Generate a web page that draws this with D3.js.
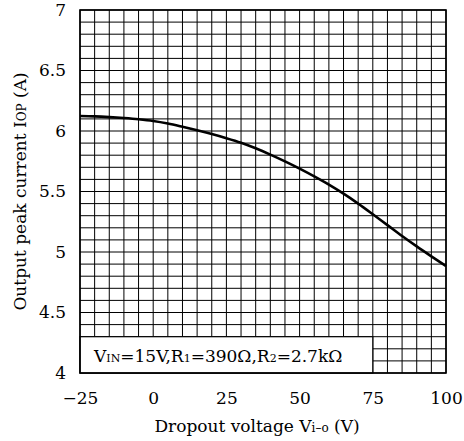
<!DOCTYPE html>
<html>
<head>
<meta charset="utf-8">
<script src="https://cdn.jsdelivr.net/npm/d3@7"></script>
<style>
  body { margin: 0; background: #fff; }
  text { font-family: "DejaVu Serif", "Liberation Serif", serif; fill: #000; }
</style>
</head>
<body>
<svg></svg>
<script>
// data
var voltage = [-25, -20, -15, -10, -5, 0, 5, 10, 15, 20, 25, 30, 35, 40, 45, 50, 55, 60, 65, 70, 75, 80, 85, 90, 95, 100]
var current = [6.124, 6.121, 6.115, 6.107, 6.097, 6.083, 6.062, 6.035, 6.006, 5.975, 5.941, 5.903, 5.857, 5.805, 5.749, 5.689, 5.625, 5.557, 5.482, 5.400, 5.312, 5.222, 5.132, 5.046, 4.964, 4.884]
var xTicks = [-25, 0, 25, 50, 75, 100]
var yTicks = [4, 4.5, 5, 5.5, 6, 6.5, 7]
var xGrid = d3.range(-25, 100.1, 5)
var yGrid = d3.range(40, 70.1, 1).map(d => d / 10)

var svg = d3.select('svg')
  .attr('width', 464)
  .attr('height', 441)

// plot area (window.top is reserved, so use other names)
var pL = 80, pR = 446, pT = 10, pB = 373
var fs = '17px', fsSub = '11px'

// 比例尺
var x = d3.scaleLinear().domain([-25, 100]).range([pL, pR])
var y = d3.scaleLinear().domain([4, 7]).range([pB, pT])

// grid
svg.append('g')
  .selectAll('line')
  .data(xGrid)
  .enter()
  .append('line')
  .attr('x1', d => x(d))
  .attr('x2', d => x(d))
  .attr('y1', pT)
  .attr('y2', pB)
  .attr('stroke', '#000')
  .attr('stroke-width', 1)

svg.append('g')
  .selectAll('line')
  .data(yGrid)
  .enter()
  .append('line')
  .attr('x1', pL)
  .attr('x2', pR)
  .attr('y1', d => y(d))
  .attr('y2', d => y(d))
  .attr('stroke', '#000')
  .attr('stroke-width', 1)

// condition box (covers the grid)
svg.append('rect')
  .attr('x', x(-25))
  .attr('y', y(4.3))
  .attr('width', x(75) - x(-25))
  .attr('height', y(4) - y(4.3))
  .attr('fill', '#fff')
  .attr('stroke', '#000')
  .attr('stroke-width', 1.2)

var cond = svg.append('text')
  .attr('x', 94)
  .attr('y', 362)
  .style('font-size', fs)
cond.append('tspan').text('V')
cond.append('tspan').style('font-size', fsSub).text('IN')
cond.append('tspan').text('=15V,R')
cond.append('tspan').style('font-size', fsSub).text('1')
cond.append('tspan').text('=390Ω,R')
cond.append('tspan').style('font-size', fsSub).text('2')
cond.append('tspan').text('=2.7kΩ')

// frame
svg.append('rect')
  .attr('x', pL)
  .attr('y', pT)
  .attr('width', pR - pL)
  .attr('height', pB - pT)
  .attr('fill', 'none')
  .attr('stroke', '#000')
  .attr('stroke-width', 1.6)

// curve
var line = d3.line()
  .x((d, i) => x(voltage[i]))
  .y(d => y(d))
  .curve(d3.curveMonotoneX)

svg.append('path')
  .datum(current)
  .attr('d', line)
  .attr('fill', 'none')
  .attr('stroke', '#000')
  .attr('stroke-width', 2.6)

// axes
var xAxis = d3.axisBottom(x)
  .tickValues(xTicks)
  .tickSize(0)
  .tickPadding(19)
  .tickFormat(d => d < 0 ? '\u2212' + Math.abs(d) : d)
var yAxis = d3.axisLeft(y)
  .tickValues(yTicks)
  .tickSize(0)
  .tickPadding(14)
  .tickFormat(d => d)

var gx = svg.append('g')
  .attr('transform', `translate(0,${pB})`)
  .call(xAxis)
var gy = svg.append('g')
  .attr('transform', `translate(${pL},0)`)
  .call(yAxis)
gx.select('.domain').remove()
gy.select('.domain').remove()
svg.selectAll('.tick text')
  .style('font-family', '"DejaVu Serif", serif')
  .style('font-size', fs)
  .attr('fill', '#000')

// axis titles
var xl = svg.append('text')
  .attr('x', 257)
  .attr('y', 432)
  .style('text-anchor', 'middle')
  .style('font-size', fs)
xl.append('tspan').text('Dropout voltage V')
xl.append('tspan').style('font-size', '12px').text('i\u2013o')
xl.append('tspan').text(' (V)')

var yl = svg.append('text')
  .attr('transform', `translate(26,${(pT + pB) / 2}) rotate(-90)`)
  .style('text-anchor', 'middle')
  .style('font-size', fs)
yl.append('tspan').text('Output peak current I')
yl.append('tspan').style('font-size', '12px').text('OP')
yl.append('tspan').text(' (A)')
</script>
</body>
</html>
